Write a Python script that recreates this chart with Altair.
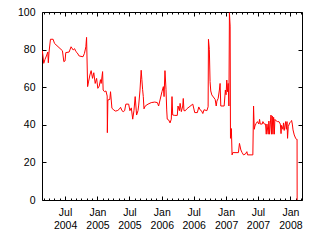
import altair as alt
import pandas as pd

BASE = "2004-07-01"  # day offsets below are days since this date

day = [-129, -121, -114, -106, -98, -95, -91, -83, -68, -60, -15, -7, 0, 4, 23, 34, 46, 54, 61, 68,
       80, 102, 110, 118, 122, 128, 133, 141, 148, 156, 163, 171, 179, 186, 194, 201, 205, 213, 216, 224,
       232, 239, 240, 243, 254, 258, 266, 273, 285, 296, 307, 315, 323, 330, 338, 345, 361, 368, 376, 384,
       391, 398, 406, 414, 418, 425, 432, 436, 440, 444, 448, 455, 471, 489, 509, 524, 531, 539, 550, 558,
       562, 567, 573, 577, 580, 588, 596, 603, 607, 611, 623, 637, 641, 649, 653, 660, 668, 671, 675, 683,
       691, 725, 736, 751, 759, 766, 774, 782, 789, 805, 812, 814, 819, 823, 827, 833, 852, 858, 862, 869,
       876, 880, 884, 903, 910, 914, 918, 922, 926, 930, 933, 937, 939, 944, 948, 952, 984, 990, 998, 1005,
       1013, 1024, 1032, 1036, 1066, 1070, 1074, 1078, 1085, 1092, 1100, 1104, 1108, 1119, 1123, 1131, 1138, 1142, 1146, 1153,
       1157, 1161, 1165, 1169, 1172, 1176, 1180, 1184, 1188, 1191, 1199, 1206, 1214, 1222, 1226, 1229, 1237, 1240, 1244, 1252,
       1256, 1260, 1263, 1267, 1275, 1282, 1286, 1290, 1294, 1301, 1309, 1313, 1317, 1317.5]

value = [79.4, 72.7, 74.8, 76.6, 78.7, 73, 78.7, 85.5, 85.5, 83.3, 79.4, 73.6, 74, 78.4, 78.7, 81.5, 79.8, 80.5, 79, 78.4,
         76.6, 76.2, 78, 81.5, 86.5, 60.3, 62.8, 66.5, 68.8, 64.7, 67.7, 62, 64.7, 59.4, 60.6, 64, 62, 68.3, 58.5, 57.6,
         58, 55.3, 35.8, 53.2, 53.5, 57.6, 48.8, 48.2, 47.3, 47.5, 48.2, 49.3, 47.5, 47, 47.5, 51, 51, 47.5, 49, 43,
         47.5, 55, 45.2, 47.5, 50.5, 58, 69, 64, 58.9, 55, 48.5, 50, 51, 51.8, 52.1, 51.8, 50, 53.2, 57.6, 60.3,
         55, 68.8, 58.9, 47.9, 43, 42.6, 41, 43, 55, 45.2, 45, 45, 50, 47.5, 51.4, 47, 50, 54, 47.5, 47.5,
         48.5, 51, 46.5, 46.5, 49.5, 48, 47.5, 46, 48, 47.5, 49.6, 85.5, 80, 63, 58, 55.9, 53.5, 50, 52.6, 54,
         58.5, 62, 50, 50, 58.5, 56, 63.8, 57.6, 62, 50, 99.6, 92.5, 32.8, 38, 24, 25.2, 25.2, 30.1, 26.6, 25.2,
         24, 24.5, 25.7, 24, 24, 50, 37.6, 39.4, 40.8, 41.7, 40.4, 42.9, 40.4, 40.4, 41.7, 40.4, 40.4, 35, 40.4, 35,
         42, 35, 40.4, 45.2, 35, 44.7, 35, 44, 35, 42.9, 42, 41.7, 41.7, 40.4, 35.3, 39.7, 37.6, 41, 37, 41.7,
         37.6, 41.7, 32.8, 39, 41, 41.7, 42.3, 40.4, 37.3, 34.6, 32.8, 32.3, 32.3, 0]

y_ticks = [0, 20, 40, 60, 80, 100]
major_months = [(2004, 7), (2005, 1), (2005, 7), (2006, 1), (2006, 7), (2007, 1), (2007, 7), (2008, 1)]
minor_months = [(y, m) for y in range(2004, 2009) for m in range(1, 13)
                if (y, m) >= (2004, 3) and (y, m) <= (2008, 3)]

dates = (pd.Timestamp(BASE) + pd.to_timedelta(day, unit="D")).strftime("%Y-%m-%dT%H:%M:%S")
df = pd.DataFrame({"date": list(dates), "value": value})

major_vals = [alt.DateTime(year=y, month=m, date=1) for y, m in major_months]
minor_vals = [alt.DateTime(year=y, month=m, date=1) for y, m in minor_months]

FONT = "Liberation Sans"
FS = 10.5

xs = alt.Scale(domain=[alt.DateTime(year=2004, month=2, date=21),
                       alt.DateTime(year=2008, month=3, date=7)], nice=False)
ys = alt.Scale(domain=[0, 100], nice=False)

common = dict(domain=False, grid=False, title=None, tickColor="black", tickWidth=1)

bottom_major = alt.Axis(orient="bottom", values=major_vals, offset=-4, tickSize=4,
                        labelExpr="[timeFormat(datum.value, '%b'), timeFormat(datum.value, '%Y')]",
                        labelPadding=7, labelLineHeight=13, labelFont=FONT, labelFontSize=FS,
                        labelColor="black", labelFlush=False, labelOverlap=False, **common)
bottom_minor = alt.Axis(orient="bottom", values=minor_vals, offset=-2, tickSize=2, labels=False, **common)
top_major = alt.Axis(orient="top", values=major_vals, offset=-4, tickSize=4, labels=False, **common)
top_minor = alt.Axis(orient="top", values=minor_vals, offset=-2, tickSize=2, labels=False, **common)
left_major = alt.Axis(orient="left", values=y_ticks, offset=-4, tickSize=4, labelPadding=7,
                      labelFont=FONT, labelFontSize=FS, labelColor="black", labelFlush=False, **common)
right_major = alt.Axis(orient="right", values=y_ticks, offset=-4, tickSize=4, labels=False, **common)

base = alt.Chart(df)

g1 = base.mark_line(opacity=0).encode(
    x=alt.X("date:T", scale=xs, axis=top_major),
    y=alt.Y("value:Q", scale=ys, axis=right_major))
g2 = base.mark_line(opacity=0).encode(
    x=alt.X("date:T", scale=xs, axis=bottom_minor),
    y=alt.Y("value:Q", scale=ys, axis=None))
g3 = base.mark_line(opacity=0).encode(
    x=alt.X("date:T", scale=xs, axis=top_minor),
    y=alt.Y("value:Q", scale=ys, axis=None))
line = base.mark_line(color="#ff0000", strokeWidth=1, clip=True).encode(
    x=alt.X("date:T", scale=xs, axis=bottom_major),
    y=alt.Y("value:Q", scale=ys, axis=left_major))

chart = alt.layer(g1, g2, g3, line).resolve_axis(
    x="independent", y="independent"
).properties(
    width=260, height=188,
    padding={"left": 42, "top": 12, "right": 18, "bottom": 40},
    autosize=alt.AutoSizeParams(type="none"),
    background="white",
).configure_view(stroke="black", strokeWidth=1)

chart.save("out.html", embed_options={"renderer": "svg", "actions": False})
